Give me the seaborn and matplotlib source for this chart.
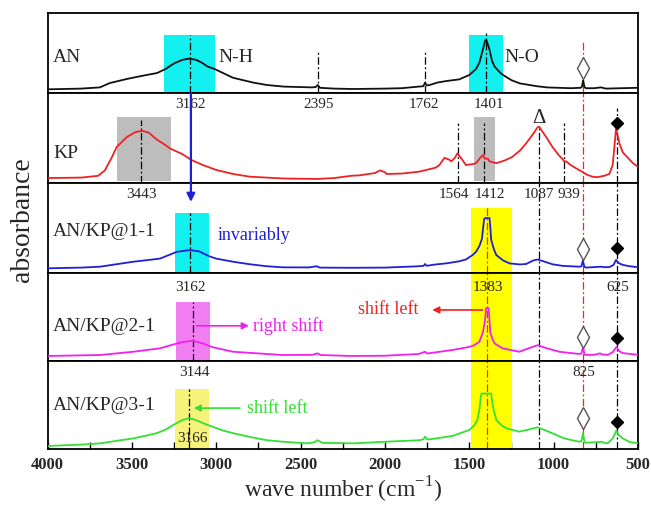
import matplotlib
matplotlib.use("Agg")
import matplotlib.pyplot as plt
import seaborn as sns
import pandas as pd
from matplotlib.patches import ConnectionPatch
from matplotlib.ticker import MultipleLocator

# ---------------- data ----------------
an_wn = [4000, 3800, 3690, 3630, 3530, 3450, 3350, 3300, 3250, 3200, 3160, 3120, 3090, 3050, 3010,
         2950, 2900, 2780, 2700, 2600, 2430, 2410, 2398, 2385, 2300, 2190, 2000, 1900, 1800, 1772,
         1762, 1752, 1735, 1690, 1635, 1560, 1500, 1460, 1440, 1420, 1405, 1398, 1380, 1365, 1350,
         1320, 1300, 1250, 1200, 1100, 1040, 900, 840, 832, 825, 818, 810, 760, 720, 710, 690, 600, 500]
an_ab = [0.046, 0.055, 0.07, 0.125, 0.175, 0.21, 0.25, 0.30, 0.37, 0.415, 0.43, 0.415, 0.385, 0.33, 0.30,
         0.24, 0.19, 0.13, 0.10, 0.08, 0.07, 0.075, 0.10, 0.065, 0.055, 0.05, 0.055, 0.06, 0.08, 0.085,
         0.13, 0.095, 0.10, 0.13, 0.15, 0.17, 0.225, 0.30, 0.38, 0.54, 0.66, 0.66, 0.54, 0.40, 0.33,
         0.26, 0.225, 0.16, 0.12, 0.085, 0.07, 0.06, 0.065, 0.08, 0.16, 0.08, 0.06, 0.06, 0.07, 0.065, 0.055, 0.06, 0.065]

kp_wn = [4000, 3800, 3700, 3660, 3620, 3590, 3530, 3480, 3440, 3400, 3350, 3300, 3275, 3200, 3146,
         3080, 3000, 2900, 2800, 2600, 2400, 2300, 2200, 2150, 2100, 2060, 2030, 2000, 1990, 1900,
         1800, 1700, 1677, 1647, 1620, 1607, 1585, 1570, 1550, 1520, 1480, 1460, 1435, 1420, 1405,
         1390, 1380, 1340, 1290, 1245, 1200, 1163, 1120, 1095, 1085, 1070, 1040, 1007, 970, 945,
         937, 925, 900, 850, 800, 770, 740, 700, 670, 650, 640, 630, 620, 610, 590, 560, 530, 500]
kp_ab = [0.055, 0.06, 0.08, 0.14, 0.28, 0.40, 0.51, 0.565, 0.58, 0.56, 0.48, 0.42, 0.385, 0.32, 0.255,
         0.20, 0.145, 0.10, 0.07, 0.05, 0.045, 0.055, 0.08, 0.085, 0.10, 0.11, 0.14, 0.12, 0.10, 0.105,
         0.125, 0.17, 0.20, 0.28, 0.26, 0.24, 0.28, 0.33, 0.28, 0.20, 0.21, 0.22, 0.28, 0.31, 0.27,
         0.27, 0.24, 0.22, 0.25, 0.29, 0.36, 0.44, 0.55, 0.62, 0.625, 0.58, 0.50, 0.40, 0.31, 0.26,
         0.24, 0.24, 0.20, 0.145, 0.09, 0.07, 0.065, 0.08, 0.10, 0.20, 0.40, 0.61, 0.52, 0.44, 0.34, 0.28, 0.22, 0.18]

m11_wn = [4000, 3800, 3689, 3600, 3493, 3400, 3334, 3280, 3234, 3156, 3100, 3079, 3040, 3000, 2900,
          2800, 2700, 2605, 2450, 2406, 2385, 2200, 2000, 1800, 1770, 1762, 1752, 1700, 1637, 1560,
          1520, 1480, 1460, 1440, 1425, 1418, 1412, 1405, 1380, 1375, 1370, 1355, 1340, 1300, 1262,
          1200, 1163, 1120, 1095, 1060, 1007, 950, 850, 835, 827, 818, 810, 720, 700, 670, 645, 630,
          615, 590, 550, 500]
m11_ab = [0.052, 0.06, 0.07, 0.095, 0.125, 0.145, 0.16, 0.20, 0.235, 0.255, 0.24, 0.22, 0.185, 0.16, 0.125,
          0.097, 0.075, 0.063, 0.062, 0.075, 0.06, 0.058, 0.06, 0.075, 0.08, 0.10, 0.08, 0.095, 0.107, 0.13,
          0.15, 0.20, 0.235, 0.30, 0.38, 0.50, 0.60, 0.61, 0.61, 0.50, 0.367, 0.27, 0.20, 0.14, 0.107,
          0.095, 0.10, 0.14, 0.15, 0.13, 0.097, 0.08, 0.07, 0.075, 0.137, 0.07, 0.06, 0.07, 0.065, 0.065, 0.09, 0.145,
          0.11, 0.09, 0.075, 0.065]

m21_wn = [4000, 3689, 3493, 3334, 3250, 3200, 3140, 3080, 3020, 2900, 2605, 2430, 2400, 2380, 2200,
          2000, 1800, 1762, 1750, 1600, 1500, 1470, 1440, 1420, 1410, 1405, 1400, 1385, 1380, 1375,
          1360, 1350, 1303, 1203, 1140, 1095, 1050, 966, 850, 835, 826, 817, 760, 725, 715, 680,
          650, 628, 610, 590, 500]
m21_ab = [0.057, 0.068, 0.105, 0.144, 0.19, 0.215, 0.23, 0.20, 0.156, 0.105, 0.068, 0.07, 0.087, 0.068, 0.057,
          0.06, 0.08, 0.105, 0.085, 0.125, 0.16, 0.18, 0.22, 0.32, 0.42, 0.50, 0.60, 0.60, 0.45, 0.32,
          0.24, 0.20, 0.144, 0.105, 0.15, 0.18, 0.15, 0.105, 0.08, 0.085, 0.16, 0.07, 0.07, 0.087, 0.075, 0.07,
          0.10, 0.16, 0.11, 0.09, 0.07]

m31_wn = [4000, 3800, 3689, 3600, 3493, 3420, 3352, 3300, 3257, 3200, 3160, 3130, 3097, 3060, 3018,
          2960, 2900, 2783, 2700, 2605, 2465, 2420, 2400, 2370, 2190, 1990, 1795, 1772, 1762, 1750,
          1735, 1600, 1500, 1470, 1452, 1440, 1432, 1428, 1370, 1365, 1360, 1340, 1310, 1280, 1203,
          1150, 1095, 1060, 1007, 937, 850, 835, 826, 817, 810, 730, 717, 700, 680, 650, 628, 615,
          590, 550, 500]
m31_ab = [0.034, 0.05, 0.064, 0.09, 0.12, 0.15, 0.18, 0.22, 0.27, 0.33, 0.35, 0.335, 0.31, 0.28, 0.25,
          0.21, 0.18, 0.13, 0.10, 0.083, 0.064, 0.075, 0.10, 0.07, 0.064, 0.083, 0.10, 0.11, 0.14, 0.11,
          0.11, 0.148, 0.216, 0.27, 0.33, 0.45, 0.59, 0.63, 0.63, 0.55, 0.48, 0.33, 0.27, 0.235, 0.197,
          0.22, 0.247, 0.22, 0.178, 0.12, 0.083, 0.09, 0.18, 0.08, 0.07, 0.08, 0.083, 0.07, 0.064, 0.12, 0.21, 0.16,
          0.12, 0.08, 0.064]

sample_names = ["AN", "KP", "AN/KP@1-1", "AN/KP@2-1", "AN/KP@3-1"]
sample_colors = ["#111111", "#ee2222", "#1f1fd6", "#f020f0", "#33e033"]
x_ticks = [4000, 3500, 3000, 2500, 2000, 1500, 1000, 500]

# ---------------- style ----------------
sns.set_theme(style="ticks")
plt.rcParams['font.family'] = ['Liberation Serif', 'DejaVu Serif']
plt.rcParams['mathtext.fontset'] = 'custom'
plt.rcParams['mathtext.rm'] = 'Liberation Serif'

fig = plt.figure(figsize=(6.51, 5.12), dpi=100)
fig.patch.set_facecolor('white')
W, H = 651.0, 512.0
left_px, right_px = 47.5, 638.0
tops_px = [13, 93, 183, 273, 361]
bots_px = [93, 183, 273, 361, 449]

spectra = [(an_wn, an_ab), (kp_wn, kp_ab), (m11_wn, m11_ab), (m21_wn, m21_ab), (m31_wn, m31_ab)]
axes = []
for i, (t, b) in enumerate(zip(tops_px, bots_px)):
    ax = fig.add_axes([left_px / W, 1 - b / H, (right_px - left_px) / W, (b - t) / H])
    ax.set_facecolor('white')
    df = pd.DataFrame({"wn": spectra[i][0], "ab": spectra[i][1]})
    sns.lineplot(data=df, x="wn", y="ab", ax=ax, color=sample_colors[i], lw=1.3,
                 estimator=None, sort=False, legend=False, zorder=3)
    ax.set_xlim(4000, 500)
    ax.set_ylim(0, 1)
    ax.set_xlabel("")
    ax.set_ylabel("")
    ax.set_yticks([])
    for s in ax.spines.values():
        s.set_color("black")
        s.set_linewidth(1.3)
    if i < 4:
        ax.tick_params(bottom=False, labelbottom=False)
    axes.append(ax)

ax1, ax2, ax3, ax4, ax5 = axes
DD = (0, (6, 2, 1.5, 2))

def vline(ax, x, y0, y1, color="black", lw=0.9):
    ax.axvline(x, ymin=y0, ymax=y1, color=color, ls=DD, lw=lw, zorder=2)

def span(ax, x0, x1, y0, y1, color, alpha=1.0):
    ax.axvspan(x1, x0, ymin=y0, ymax=y1, color=color, alpha=alpha, lw=0, zorder=1)

# bottom axis ticks
ax5.xaxis.set_major_locator(MultipleLocator(500))
ax5.xaxis.set_minor_locator(MultipleLocator(250))
ax5.set_xticks(x_ticks)
ax5.set_xticklabels([str(v) for v in x_ticks], fontsize=12, fontweight='bold')
ax5.tick_params(axis='x', which='both', direction='in', length=5, width=1, color='black', pad=6)

# ---- panel 1: AN ----
span(ax1, 3310, 3010, 0, 0.725, "#12f0f0")
span(ax1, 1500, 1300, 0, 0.725, "#12f0f0")
vline(ax1, 3158, 0, 0.73)
vline(ax1, 2395, 0, 0.525)
vline(ax1, 1762, 0, 0.525)
vline(ax1, 1401, 0, 0.75)
vline(ax1, 825, 0, 0.64, color="#ff2020")
ax1.plot([825], [0.31], marker='d', ms=11, mfc='white', mec='#555555', mew=1, zorder=4)
ax1.text(3967, 0.44, "AN", fontsize=14, va='center', ha='left')
ax1.text(2990, 0.44, "N-H", fontsize=14, va='center', ha='left')
ax1.text(1291, 0.44, "N-O", fontsize=14, va='center', ha='left')

# ---- panel 2: KP ----
span(ax2, 3590, 3270, 0.02, 0.73, "#bdbdbd")
span(ax2, 1475, 1345, 0.02, 0.73, "#bdbdbd")
vline(ax2, 3443, 0, 0.70)
vline(ax2, 1564, 0, 0.67)
vline(ax2, 1412, 0, 0.67)
vline(ax2, 1087, 0, 0.61)
vline(ax2, 939, 0, 0.67)
vline(ax2, 625, 0, 0.83)
vline(ax2, 825, 0, 1, color="#ff2020")
ax2.text(1087, 0.72, "Δ", fontsize=15, ha='center', va='center')
ax2.plot([625], [0.67], marker='D', ms=6, color='black', zorder=4)
for lab, xx in [("3162", 3150), ("2395", 2392), ("1762", 1768), ("1401", 1386)]:
    ax2.text(xx, 0.867, lab, fontsize=11, ha='center', va='center')
ax2.text(3967, 0.33, "KP", fontsize=14, va='center', ha='left')

# ---- panel 3: AN/KP@1-1 ----
span(ax3, 3245, 3044, 0, 0.667, "#12f0f0")
span(ax3, 1489, 1244, 0, 0.72, "#ffff00")
vline(ax3, 3158, 0, 0.667)
vline(ax3, 1395, 0, 0.72, color="#ff2020")
vline(ax3, 1087, 0, 1)
vline(ax3, 625, 0, 1)
vline(ax3, 825, 0, 1, color="#ff2020")
ax3.plot([825], [0.267], marker='d', ms=11, mfc='white', mec='#555555', mew=1, zorder=4)
ax3.plot([625], [0.275], marker='D', ms=6, color='black', zorder=4)
for lab, xx in [("3443", 3443), ("1564", 1592), ("1412", 1375), ("1087", 1085), ("939", 907)]:
    ax3.text(xx, 0.867, lab, fontsize=11, ha='center', va='center')
ax3.text(3967, 0.456, "AN/KP@1-1", fontsize=14, va='center', ha='left')
ax3.text(2990, 0.42, "invariably", fontsize=13, va='center', ha='left', color="#1f1fd6")

# ---- panel 4: AN/KP@2-1 ----
span(ax4, 3241, 3038, 0, 0.667, "#f07ef0")
span(ax4, 1489, 1244, 0, 1, "#ffff00")
vline(ax4, 3138, 0, 0.667)
vline(ax4, 1395, 0, 1, color="#ff2020")
vline(ax4, 1087, 0, 1)
vline(ax4, 625, 0, 1)
vline(ax4, 825, 0, 1, color="#ff2020")
ax4.plot([825], [0.276], marker='d', ms=11, mfc='white', mec='#555555', mew=1, zorder=4)
ax4.plot([625], [0.258], marker='D', ms=6, color='black', zorder=4)
for lab, xx in [("3162", 3150), ("1383", 1392), ("625", 620)]:
    ax4.text(xx, 0.83, lab, fontsize=11, ha='center', va='center')
ax4.text(3967, 0.39, "AN/KP@2-1", fontsize=14, va='center', ha='left')
ax4.annotate("", xy=(2790, 0.40), xytext=(3132, 0.40),
             arrowprops=dict(arrowstyle='-|>', color="#f020f0", lw=1.2, mutation_scale=10), zorder=5)
ax4.text(2784, 0.40, "right shift", fontsize=13, va='center', ha='left', color="#f020f0")
ax4.annotate("", xy=(1736, 0.58), xytext=(1404, 0.58),
             arrowprops=dict(arrowstyle='-|>', color="#ee2222", lw=1.2, mutation_scale=10), zorder=5)
ax4.text(1978, 0.58, "shift left", fontsize=13, va='center', ha='center', color="#ee2222")

# ---- panel 5: AN/KP@3-1 ----
span(ax5, 3245, 3042, 0.01, 0.68, "#f6f27a")
span(ax5, 1489, 1244, 0.01, 1, "#ffff00")
vline(ax5, 3160, 0, 0.68)
vline(ax5, 1395, 0, 1, color="#ff2020")
vline(ax5, 1087, 0, 1)
vline(ax5, 625, 0, 1)
vline(ax5, 825, 0, 1, color="#ff2020")
ax5.plot([825], [0.35], marker='d', ms=11, mfc='white', mec='#555555', mew=1, zorder=4)
ax5.plot([625], [0.31], marker='D', ms=6, color='black', zorder=4)
ax5.text(3127, 0.864, "3144", fontsize=11, ha='center', va='center')
ax5.text(824, 0.864, "825", fontsize=11, ha='center', va='center')
ax5.text(3138, 0.12, "3166", fontsize=11, ha='center', va='center')
ax5.text(3967, 0.50, "AN/KP@3-1", fontsize=14, va='center', ha='left')
ax5.annotate("", xy=(3150, 0.465), xytext=(2843, 0.465),
             arrowprops=dict(arrowstyle='-|>', color="#33e033", lw=1.2, mutation_scale=10), zorder=5)
ax5.text(2819, 0.465, "shift left", fontsize=13, va='center', ha='left', color="#33e033")

# blue arrow from panel 2 top into panel 3
con = ConnectionPatch(xyA=(3150, 1.0), coordsA=ax2.transData,
                      xyB=(3150, 0.79), coordsB=ax3.transData,
                      arrowstyle='-|>', color="#1f1fd6", lw=1.6, mutation_scale=12, zorder=6)
fig.add_artist(con)

fig.text((left_px + right_px) / 2 / W, 1 - 490 / H, "wave number (cm$^{\\mathregular{-1}}$)",
         ha='center', va='center', fontsize=17)
fig.text(23 / W, 1 - 220 / H, "absorbance", rotation=90, ha='center', va='center', fontsize=20)

fig.savefig("out.png", dpi=100, facecolor='white')
